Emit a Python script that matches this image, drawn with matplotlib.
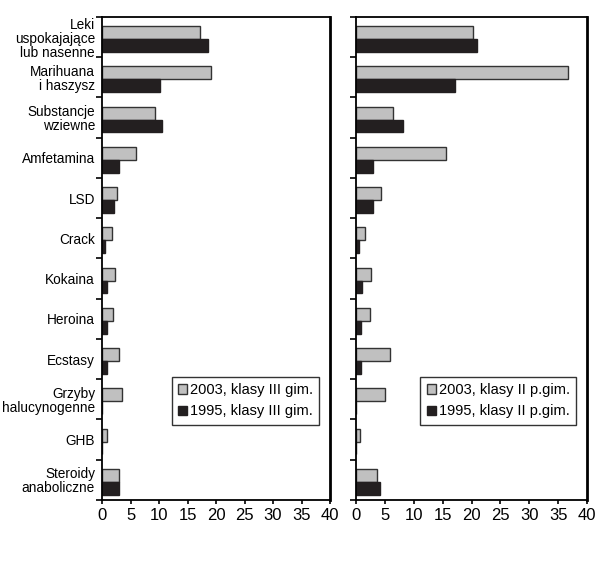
import numpy as np
import matplotlib
matplotlib.use("Agg")
import matplotlib.pyplot as plt
from matplotlib import font_manager

# --- data ---
categories = ['Leki\nuspokajające\nlub nasenne', 'Marihuana\ni haszysz', 'Substancje\nwziewne',
              'Amfetamina', 'LSD', 'Crack', 'Kokaina', 'Heroina', 'Ecstasy',
              'Grzyby\nhalucynogenne', 'GHB', 'Steroidy\nanaboliczne']
gim_2003 = [17.2, 19.1, 9.3, 6.0, 2.6, 1.7, 2.3, 1.9, 2.9, 3.5, 0.9, 3.0]
gim_1995 = [18.6, 10.2, 10.5, 3.0, 2.1, 0.5, 0.9, 0.9, 0.9, 0.0, 0.0, 2.9]
pgim_2003 = [20.2, 36.7, 6.4, 15.5, 4.4, 1.6, 2.6, 2.4, 5.9, 5.1, 0.7, 3.7]
pgim_1995 = [20.9, 17.2, 8.1, 2.9, 2.9, 0.5, 1.0, 0.8, 0.8, 0.0, 0.0, 4.2]
labels_left = ['2003, klasy III gim.', '1995, klasy III gim.']
labels_right = ['2003, klasy II p.gim.', '1995, klasy II p.gim.']
xticks = [0, 5, 10, 15, 20, 25, 30, 35, 40]

names = {f.name for f in font_manager.fontManager.ttflist}
font = 'Liberation Sans Narrow' if 'Liberation Sans Narrow' in names else 'Liberation Sans'
plt.rcParams['font.family'] = [font, 'DejaVu Sans']

GRAY = '#c0c0c0'
DARK = '#231f20'

fig = plt.figure(figsize=(5.97, 5.69), dpi=100)
ax1 = fig.add_axes([0.1709, 0.1213, 0.3819, 0.849])
ax2 = fig.add_axes([0.5963, 0.1213, 0.387, 0.849])

n = len(categories)
y = np.arange(n)
h = 0.32


def draw(ax, a, b, labs, show_labels):
    ax.barh(y - h / 2 + 0.05, a, height=h, color=GRAY, edgecolor='#333333', linewidth=1.0, label=labs[0])
    ax.barh(y + h / 2 + 0.05, b, height=h, color=DARK, edgecolor=DARK, linewidth=1.0, label=labs[1])
    ax.set_ylim(n - 0.5, -0.5)
    ax.set_xlim(0, 40)
    ax.set_xticks(xticks)
    ax.set_xticklabels([str(t) for t in xticks], fontsize=12)
    ax.set_yticks(np.arange(n + 1) - 0.5, minor=False)
    ax.set_yticklabels([])
    ax.tick_params(axis='y', which='major', length=4, width=1.2, direction='out')
    ax.tick_params(axis='x', length=3, width=1.2, direction='out', pad=3)
    if show_labels:
        ax.set_yticks(y, minor=True)
        ax.set_yticklabels(categories, minor=True, fontsize=9.8, linespacing=1.0)
        ax.tick_params(axis='y', which='minor', length=0, pad=5)
    for s in ax.spines.values():
        s.set_linewidth(1.3)
    ax.spines['right'].set_linewidth(2.0)
    leg = ax.legend(loc='lower right', bbox_to_anchor=(0.985, 0.14), fontsize=10.5,
                    frameon=True, fancybox=False, edgecolor='black',
                    handlelength=0.6, handleheight=0.6, handletextpad=0.2,
                    borderpad=0.45, labelspacing=0.5)
    leg.get_frame().set_linewidth(1.0)


draw(ax1, gim_2003, gim_1995, labels_left, True)
draw(ax2, pgim_2003, pgim_1995, labels_right, False)

plt.savefig('out.png', dpi=100)
